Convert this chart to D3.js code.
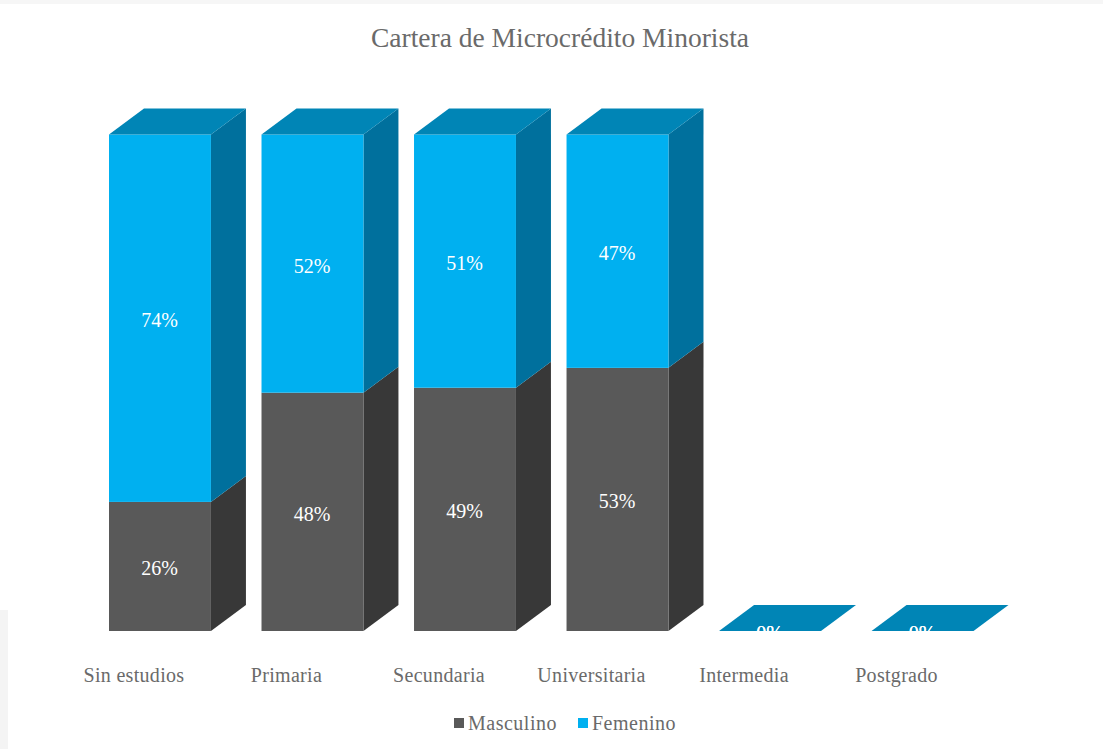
<!DOCTYPE html>
<html>
<head>
<meta charset="utf-8">
<script src="https://cdn.jsdelivr.net/npm/d3@7"></script>
<style>
  html, body { margin: 0; padding: 0; background: #fff; }
  svg { display: block; font-family: "Liberation Serif", serif; }
</style>
</head>
<body>
<svg id="chart" width="1103" height="749"></svg>
<script>
const categories = ['Sin estudios', 'Primaria', 'Secundaria', 'Universitaria', 'Intermedia', 'Postgrado']
const masculino = [0.26, 0.48, 0.49, 0.53, 0, 0]
const femenino = [0.74, 0.52, 0.51, 0.47, 0, 0]
const series_names = ['Masculino', 'Femenino']
const chart_title = 'Cartera de Microcrédito Minorista'

const colors = {
  Masculino: { front: '#595959', side: '#383838', top: '#474747' },
  Femenino: { front: '#00b0f0', side: '#00709d', top: '#0085b6' }
}
const text_color = '#6a6a6a'

const svg = d3.select('#chart')

// the faint grey edges of the screenshot
svg.append('rect').attr('width', 1103).attr('height', 4).attr('fill', '#f6f6f6')
svg.append('rect').attr('y', 610).attr('width', 8).attr('height', 139).attr('fill', '#f4f4f4')

const x = d3.scaleBand()
  .domain(categories)
  .range([109, 973.5])
  .paddingInner(0.3316)
  .paddingOuter(0)
  .align(0)
const y = d3.scaleLinear().domain([0, 1]).range([631, 134.5])

const depth_x = 35
const depth_y = 26

const stack = d3.stack().keys(series_names)
const rows = categories.map((c, i) => ({ category: c, Masculino: masculino[i], Femenino: femenino[i] }))
const layers = stack(rows)

function poly(points) {
  return points.map(p => p.join(',')).join(' ')
}

const bw = x.bandwidth()

layers.forEach(layer => {
  const c = colors[layer.key]
  const g = svg.append('g').attr('class', 'series-' + layer.key)
  const data = layer.map(d => ({ x0: x(d.data.category), y0: y(d[0]), y1: y(d[1]) }))

  // a zero height segment has no sides; only the femenino one shows its lid
  g.selectAll('.side')
    .data(data.filter(d => d.y0 > d.y1))
    .enter()
    .append('polygon')
    .attr('class', 'side')
    .attr('fill', c.side)
    .attr('points', d => poly([
      [d.x0 + bw, d.y0],
      [d.x0 + bw + depth_x, d.y0 - depth_y],
      [d.x0 + bw + depth_x, d.y1 - depth_y],
      [d.x0 + bw, d.y1]
    ]))

  g.selectAll('.front')
    .data(data.filter(d => d.y0 > d.y1))
    .enter()
    .append('rect')
    .attr('class', 'front')
    .attr('fill', c.front)
    .attr('x', d => d.x0)
    .attr('y', d => d.y1)
    .attr('width', bw)
    .attr('height', d => d.y0 - d.y1)

  if (layer.key === 'Femenino') {
    g.selectAll('.top')
      .data(data)
      .enter()
      .append('polygon')
      .attr('class', 'top')
      .attr('fill', c.top)
      .attr('points', d => poly([
        [d.x0, d.y1],
        [d.x0 + depth_x, d.y1 - depth_y],
        [d.x0 + bw + depth_x, d.y1 - depth_y],
        [d.x0 + bw, d.y1]
      ]))
  }
})

// the 0% labels are cut off by the floor of the chart
svg.append('clipPath').attr('id', 'plot-clip')
  .append('rect').attr('x', 0).attr('y', 0).attr('width', 1103).attr('height', y(0))

const labels = svg.append('g').attr('clip-path', 'url(#plot-clip)')
layers.forEach(layer => {
  labels.selectAll('.label-' + layer.key)
    .data(layer)
    .enter()
    .append('text')
    .attr('class', 'label-' + layer.key)
    .attr('x', d => x(d.data.category) + bw / 2 - 0.5)
    .attr('y', d => (y(d[0]) + y(d[1])) / 2 + 2)
    .attr('dy', '0.35em')
    .attr('text-anchor', 'middle')
    .attr('fill', '#fff')
    .attr('font-size', 20)
    .text(d => Math.round((d[1] - d[0]) * 100) + '%')
})

// category names sit left of the bar centres, as in the 3d projection
const axis = d3.axisBottom(x).tickSize(0).tickPadding(0)
const axis_g = svg.append('g')
  .attr('transform', 'translate(-25.5, 675)')
  .call(axis)
  .attr('font-family', '"Liberation Serif", serif')
axis_g.select('.domain').remove()
axis_g.selectAll('text')
  .attr('x', -0.5)
  .attr('y', 0)
  .attr('dy', '0.35em')
  .attr('fill', text_color)
  .attr('font-size', 20)
  .attr('letter-spacing', 0.3)

svg.append('text')
  .attr('x', 560)
  .attr('y', 47)
  .attr('text-anchor', 'middle')
  .attr('fill', text_color)
  .attr('font-size', 27.5)
  .text(chart_title)

const legend_x = d3.scaleOrdinal().domain(series_names).range([454, 578])
const legend = svg.append('g')
  .selectAll('g')
  .data(series_names)
  .enter()
  .append('g')
  .attr('transform', d => `translate(${legend_x(d)}, 718)`)
legend.append('rect')
  .attr('width', 10)
  .attr('height', 10)
  .attr('fill', d => colors[d].front)
legend.append('text')
  .attr('x', 14)
  .attr('y', 5)
  .attr('dy', '0.35em')
  .attr('fill', text_color)
  .attr('font-size', 20)
  .attr('letter-spacing', 0.5)
  .text(d => d)
</script>
</body>
</html>
